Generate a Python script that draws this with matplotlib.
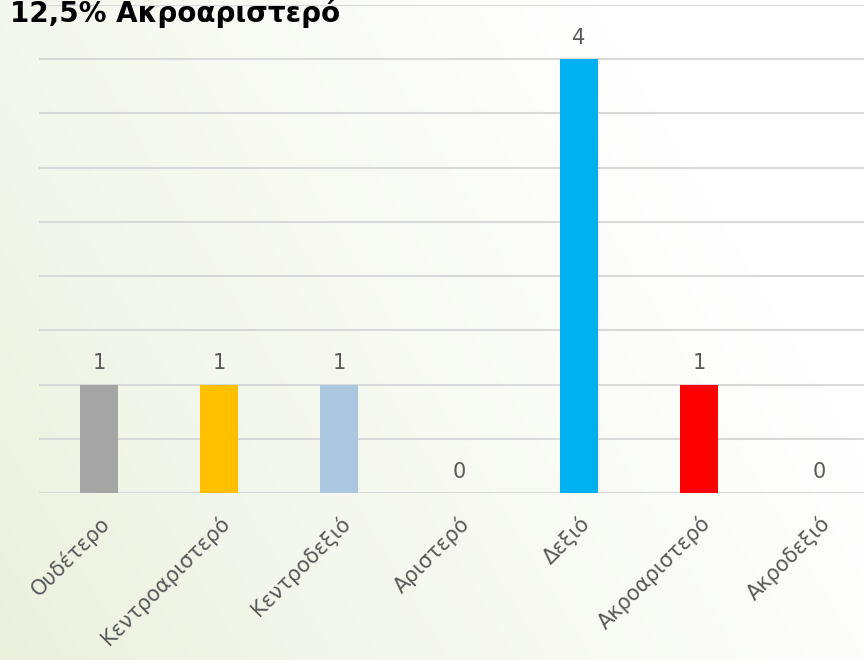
import matplotlib.pyplot as plt
import numpy as np

categories = ['Ουδέτερο', 'Κεντροαριστερό', 'Κεντροδεξιό', 'Αριστερό',
              'Δεξιό', 'Ακροαριστερό', 'Ακροδεξιό']
values = [1, 1, 1, 0, 4, 1, 0]
colors = ['#A5A5A5', '#FFC000', '#ABC7DF', '#5B9BD5', '#00B0F0', '#FF0000', '#70AD47']
title = '12,5% Ακροαριστερό'

plt.rcParams['font.family'] = ['DejaVu Sans']

fig = plt.figure(figsize=(8.64, 6.6), dpi=100)

# background: light green on the left fading to white top-right
bg = fig.add_axes([0, 0, 1, 1], zorder=-10)
xx, yy = np.meshgrid(np.linspace(0, 1, 300), np.linspace(0, 1, 300))
t = np.clip((xx * 1.1 + yy * 0.5) / 1.25, 0, 1) ** 0.8
c0 = np.array([0.918, 0.941, 0.863])
c1 = np.array([1.0, 1.0, 1.0])
img = c0[None, None, :] * (1 - t[..., None]) + c1[None, None, :] * t[..., None]
bg.imshow(img, extent=[0, 1, 0, 1], aspect='auto', origin='lower')
bg.axis('off')

# axes: x from 39px to 879px, y from 493px (0) to 5px (4.5)
ax = fig.add_axes([39 / 864, (660 - 493) / 660, 840 / 864, 488 / 660])
ax.patch.set_alpha(0)
x = np.arange(len(categories))
ax.bar(x, values, width=0.32, color=colors, zorder=3)
ax.set_xlim(-0.5, len(categories) - 0.5)
ax.set_ylim(0, 4.5)
ax.set_yticks(np.arange(0, 4.51, 0.5))
ax.yaxis.grid(True, color='#D9D9D9', linewidth=1.5, zorder=0)
ax.tick_params(axis='y', length=0, labelleft=False)
ax.tick_params(axis='x', length=0, pad=14)
for s in ax.spines.values():
    s.set_visible(False)
ax.set_xticks(x)
ax.set_xticklabels(categories, rotation=45, ha='right', rotation_mode='anchor',
                   fontsize=15, color='#595959')

for xi, v in zip(x, values):
    ax.annotate(str(v), (xi, v), xytext=(0, 8), textcoords='offset points',
                ha='center', va='bottom', fontsize=15, color='#595959')

fig.text(10 / 864, 1 - 22 / 660, title, fontsize=20, fontweight='bold',
         color='black', ha='left', va='baseline')

fig.savefig('out.png', dpi=100)
